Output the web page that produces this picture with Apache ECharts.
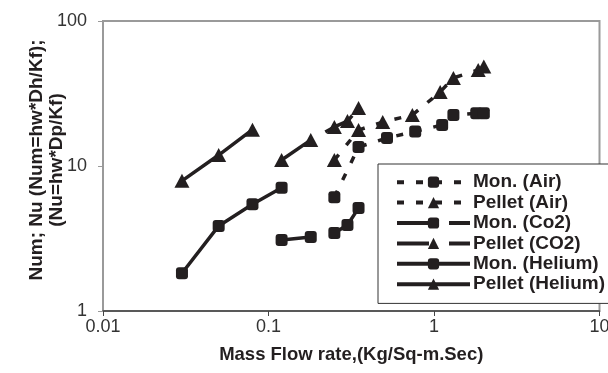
<!DOCTYPE html>
<html><head><meta charset="utf-8">
<script src="https://cdn.jsdelivr.net/npm/echarts@6/dist/echarts.min.js"></script>
<style>html,body{margin:0;padding:0;background:#fff}#c{width:608px;height:373px}</style>
</head><body><div id="c"></div>
<script>
var xTicks = ['0.01', '0.1', '1', '10'];
var yTicks = ['1', '10', '100'];

var monAirX = [0.25, 0.35, 0.52, 0.77, 1.12, 1.31, 1.8, 2.0];
var monAirY = [6.1, 13.5, 15.6, 17.3, 19.2, 22.5, 23.1, 23.1];
var pelAirX = [0.25, 0.35, 0.49, 0.74, 1.09, 1.31, 1.85, 2.0];
var pelAirY = [11.0, 17.7, 20.1, 22.5, 32.4, 40.5, 46.0, 48.5];
var monCo2X = [0.12, 0.18, 0.25, 0.3, 0.35];
var monCo2Y = [3.09, 3.24, 3.45, 3.92, 5.13];
var pelCo2X = [0.12, 0.18, 0.25, 0.3, 0.35];
var pelCo2Y = [11.0, 15.1, 18.6, 20.4, 25.1];
var monHeX = [0.03, 0.05, 0.08, 0.12];
var monHeY = [1.82, 3.86, 5.45, 7.08];
var pelHeX = [0.03, 0.05, 0.08];
var pelHeY = [7.9, 11.9, 17.8];

function pts(xs, ys) { return xs.map(function (x, i) { return [x, ys[i]]; }); }

var INK = '#231f20';
var FONT = 'Liberation Sans';
function mk(name, xs, ys, sym, dash) {
  return {
    name: name, type: 'line', data: pts(xs, ys),
    symbol: sym === 'sq' ? 'roundRect' : 'triangle',
    symbolSize: sym === 'sq' ? 12 : [15, 14],
    showSymbol: true,
    itemStyle: { color: INK, borderWidth: 0 },
    lineStyle: { color: INK, width: 3.5, type: dash },
    emphasis: { disabled: true },
    animation: false
  };
}

var chart = echarts.init(document.getElementById('c'), null, { renderer: 'canvas' });
chart.setOption({
  animation: false,
  grid: { left: 103, right: 8.5, top: 21, bottom: 62, show: true, borderColor: '#9a9a9a', borderWidth: 2,
    containLabel: false, outerBoundsMode: 'none' },
  xAxis: {
    type: 'log', logBase: 10, min: 0.01, max: 10,
    name: 'Mass Flow rate,(Kg/Sq-m.Sec)', nameLocation: 'middle', nameGap: 34, nameMoveOverlap: false,
    nameTextStyle: { fontFamily: FONT, fontWeight: 'bold', fontSize: 18.5, color: INK },
    axisLine: { lineStyle: { color: '#444', width: 1.5 } },
    axisTick: { inside: false, length: 5, lineStyle: { color: '#444' } },
    minorTick: { show: false },
    splitLine: { show: false },
    axisLabel: { fontFamily: FONT, fontSize: 18, color: '#333', margin: 7,
      formatter: function (v) { var i = Math.round(Math.log10(v)) + 2; return xTicks[i] || ''; } }
  },
  yAxis: {
    type: 'log', logBase: 10, min: 1, max: 100,
    name: 'Num; Nu (Num=hw*Dh/Kf);\n(Nu=hw*Dp/Kf)', nameLocation: 'middle', nameGap: 36, nameRotate: 90, nameMoveOverlap: false,
    nameTextStyle: { fontFamily: FONT, fontWeight: 'bold', fontSize: 19, color: INK, lineHeight: 20, padding: [0, 0, 0, 12] },
    axisLine: { lineStyle: { color: '#9a9a9a', width: 2 } },
    axisTick: { inside: false, length: 5, lineStyle: { color: '#9a9a9a' } },
    splitLine: { show: false },
    axisLabel: { fontFamily: FONT, fontSize: 18, color: '#333', margin: 16,
      formatter: function (v) { var i = Math.round(Math.log10(v)); return yTicks[i] || ''; } }
  },
  legend: {
    orient: 'vertical', left: 378, top: 164,
    backgroundColor: '#fff', borderColor: '#333', borderWidth: 1,
    padding: [8, 30, 9, 17],
    itemWidth: 73, itemHeight: 14, itemGap: 0,
    lineStyle: { width: 4 },
    textStyle: { fontFamily: FONT, fontWeight: 'bold', fontSize: 19, color: INK, lineHeight: 20.4, padding: [0, 0, 0, -2] },
    data: ['Mon. (Air)', 'Pellet (Air)', 'Mon. (Co2)', 'Pellet (CO2)', 'Mon. (Helium)', 'Pellet (Helium)']
  },
  series: [
    mk('Mon. (Air)', monAirX, monAirY, 'sq', [7, 12]),
    mk('Pellet (Air)', pelAirX, pelAirY, 'tri', [7, 12]),
    mk('Mon. (Co2)', monCo2X, monCo2Y, 'sq', [32, 20]),
    mk('Pellet (CO2)', pelCo2X, pelCo2Y, 'tri', [32, 20]),
    mk('Mon. (Helium)', monHeX, monHeY, 'sq', 'solid'),
    mk('Pellet (Helium)', pelHeX, pelHeY, 'tri', 'solid')
  ]
});
</script>
</body></html>
